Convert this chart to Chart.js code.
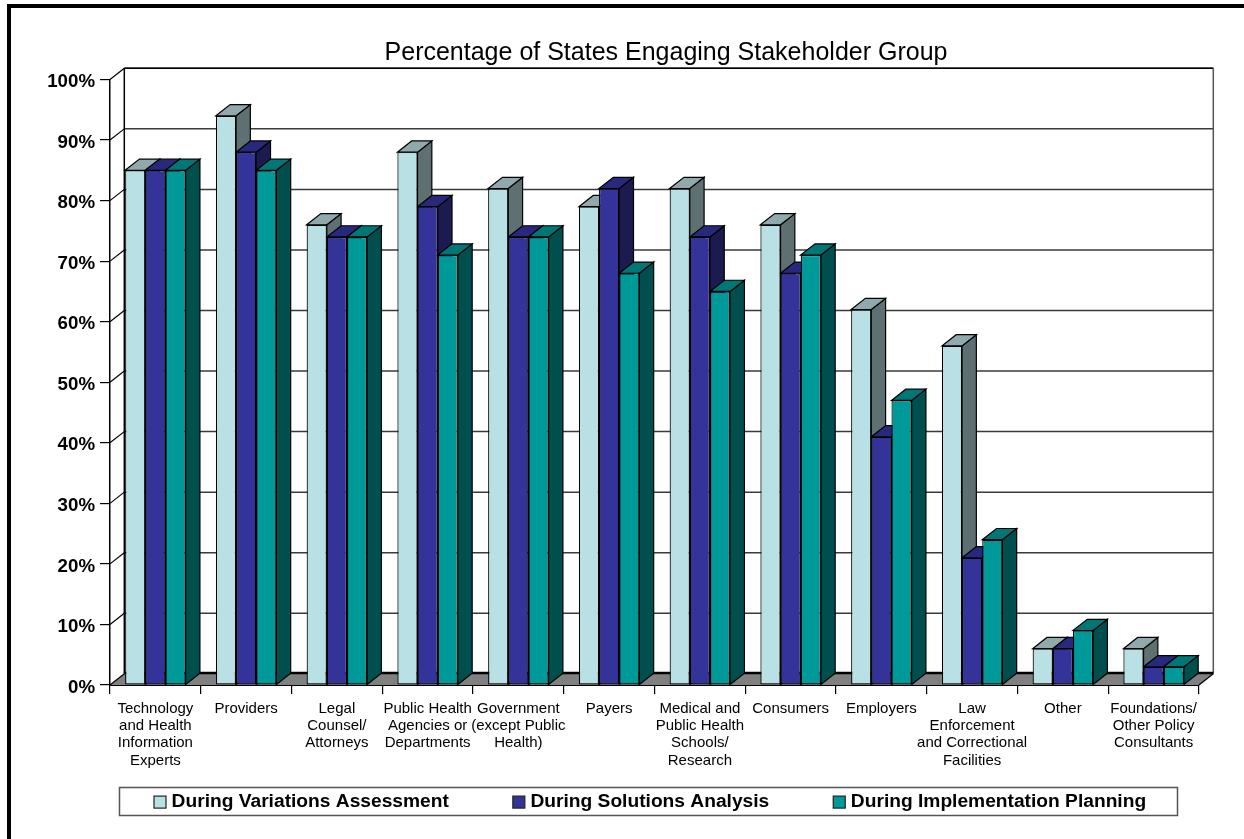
<!DOCTYPE html>
<html>
<head>
<meta charset="utf-8">
<title>Percentage of States Engaging Stakeholder Group</title>
<style>html,body{margin:0;padding:0;background:#fff}canvas{display:block}</style>
<script src="https://cdn.jsdelivr.net/npm/chart.js@4/dist/chart.umd.min.js"></script>
</head>
<body>
<canvas id="c" width="1244" height="839"></canvas>
<script>
const categories = [
  ["Technology","and Health","Information","Experts"],
  ["Providers"],
  ["Legal","Counsel/","Attorneys"],
  ["Public Health","Agencies or","Departments"],
  ["Government","(except Public","Health)"],
  ["Payers"],
  ["Medical and","Public Health","Schools/","Research"],
  ["Consumers"],
  ["Employers"],
  ["Law","Enforcement","and Correctional","Facilities"],
  ["Other"],
  ["Foundations/","Other Policy","Consultants"]
];
const seriesNames = ["During Variations Assessment","During Solutions Analysis","During Implementation Planning"];
const variationsAssessment = [85,94,76,88,82,79,82,76,62,56,6,6];
const solutionsAnalysis    = [85,88,74,79,74,82,74,68,41,21,6,3];
const implementationPlanning = [85,85,74,71,74,68,65,71,47,24,9,3];
const frontColors = ["#B9E0E4","#333399","#009999"];
const topColors   = ["#8FA9AD","#28287C","#007777"];
const sideColors  = ["#5F7072","#1B1B50","#004F4F"];

const DX = 14.3, DY = -11.2;

function poly(ctx, pts, fill, stroke, lw){
  ctx.beginPath();
  pts.forEach((p,i)=> i?ctx.lineTo(p[0],p[1]):ctx.moveTo(p[0],p[1]));
  ctx.closePath();
  if(fill){ctx.fillStyle=fill;ctx.fill();}
  if(stroke){ctx.strokeStyle=stroke;ctx.lineWidth=lw||1.2;ctx.stroke();}
}

const chartFurniture = {
  id:'chartFurniture',
  beforeDraw(chart){
    const ctx=chart.ctx;
    ctx.save();
    ctx.fillStyle='#fff';ctx.fillRect(0,0,chart.width,chart.height);
    ctx.fillStyle='#000';
    ctx.fillRect(7,4,4,chart.height-4);
    ctx.fillRect(7,4,chart.width-7,4);
    ctx.restore();
  },
  beforeDatasetsDraw(chart){
    const ctx=chart.ctx, a=chart.chartArea, y=chart.scales.y;
    const bx0=a.left+DX, bx1=a.right+DX, by0=a.bottom+DY, by1=a.top+DY;
    ctx.save();
    ctx.strokeStyle='#555';ctx.lineWidth=1.5;
    ctx.strokeRect(119.5,787.5,1058,28);
    poly(ctx,[[a.left,a.bottom],[a.right,a.bottom],[bx1,by0],[bx0,by0]],'#808080');
    y.ticks.forEach(t=>{
      const py=y.getPixelForValue(t.value);
      if(t.value===0) return;
      ctx.strokeStyle='#3a3a3a';ctx.lineWidth=1.5;
      ctx.beginPath();ctx.moveTo(bx0,py+DY);ctx.lineTo(bx1,py+DY);ctx.stroke();
      ctx.strokeStyle='#000';ctx.lineWidth=1.2;
      ctx.beginPath();ctx.moveTo(a.left,py);ctx.lineTo(bx0,py+DY);ctx.stroke();
    });
    ctx.strokeStyle='#000';ctx.lineWidth=1.5;
    ctx.beginPath();ctx.moveTo(bx0,by1);ctx.lineTo(bx1,by1);ctx.stroke();
    ctx.beginPath();ctx.moveTo(bx0,by1);ctx.lineTo(bx0,by0);ctx.stroke();
    ctx.strokeStyle='#555';ctx.lineWidth=1.5;
    ctx.beginPath();ctx.moveTo(bx1,by1);ctx.lineTo(bx1,by0);ctx.stroke();
    ctx.strokeStyle='#000';ctx.lineWidth=2.5;
    ctx.beginPath();ctx.moveTo(bx0,by0-0.7);ctx.lineTo(bx1,by0-0.7);ctx.stroke();
    ctx.lineWidth=1.2;
    ctx.beginPath();ctx.moveTo(a.left,a.bottom);ctx.lineTo(bx0,by0);ctx.stroke();
    ctx.beginPath();ctx.moveTo(a.right,a.bottom);ctx.lineTo(bx1,by0);ctx.stroke();
    // bar depth faces, left to right; the fronts are drawn over them by the library
    chart.data.datasets.forEach((d,i)=>{
      chart.getDatasetMeta(i).data.forEach(el=>{
        const l=el.x-el.width/2, r=el.x+el.width/2, t=el.y, b=el.base;
        poly(ctx,[[r,t],[r+DX,t+DY],[r+DX,b+DY],[r,b]],sideColors[i],'#000');
        poly(ctx,[[l,t],[l+DX,t+DY],[r+DX,t+DY],[r,t]],topColors[i],'#000');
      });
    });
    ctx.restore();
  },
  afterLayout(chart){
    const tb=chart.titleBlock;
    const titleShift=666-(tb.left+tb.right)/2;
    tb.left+=titleShift; tb.right+=titleShift;
    const lg=chart.legend;
    const pad=lg.options.labels.padding;
    const shift=154-(lg.left+pad+lg.right-lg.lineWidths[0])/2;
    lg.left+=shift; lg.right+=shift;
    lg.top=728.5; lg.bottom=lg.top+lg.height;
    chart.scales.x.bottom=785;
  },
  afterDraw(chart){
    const ctx=chart.ctx, lg=chart.legend;
    ctx.save();
    lg.legendHitBoxes.forEach((h,i)=>{
      const cy=h.top+h.height/2;
      ctx.fillStyle=frontColors[i];ctx.strokeStyle='#222';ctx.lineWidth=1.2;
      ctx.fillRect(h.left,cy-6,12,12);ctx.strokeRect(h.left,cy-6,12,12);
    });
    ctx.restore();
  }
};

const allValues=[variationsAssessment,solutionsAnalysis,implementationPlanning];
new Chart(document.getElementById('c'),{
  type:'bar',
  data:{
    labels:categories,
    datasets:seriesNames.map((n,i)=>({
      label:n,
      data:allValues[i],
      backgroundColor:frontColors[i],
      borderColor:'#000',
      borderWidth:1.2,
      borderSkipped:false,
      categoryPercentage:2/3,
      barPercentage:1
    }))
  },
  plugins:[chartFurniture],
  options:{
    responsive:false,
    animation:false,
    layout:{padding:{left:0,right:45,top:0,bottom:0}},
    plugins:{
      tooltip:{enabled:false},
      title:{
        display:true,
        text:"Percentage of States Engaging Stakeholder Group",
        color:'#000',
        font:{family:"'Liberation Sans'",size:25,weight:'normal',lineHeight:1.2},
        padding:{top:38.5,bottom:11}
      },
      legend:{
        position:'bottom',
        labels:{
          font:{family:"'Liberation Sans'",size:19.2,weight:'bold'},
          color:'#000',
          boxWidth:8,
          boxHeight:12,
          padding:64,
          generateLabels(chart){
            return chart.data.datasets.map((d,i)=>({
              text:d.label,fillStyle:'rgba(0,0,0,0)',strokeStyle:'rgba(0,0,0,0)',lineWidth:0,datasetIndex:i,hidden:false,fontColor:'#000'
            }));
          }
        }
      }
    },
    scales:{
      x:{
        afterFit(s){s.height=154-s.chart.legend.height;},
        border:{display:true,color:'#000',width:2},
        grid:{drawOnChartArea:false,drawTicks:true,tickLength:9,color:'#000',lineWidth:1.2},
        ticks:{autoSkip:false,maxRotation:0,minRotation:0,padding:6,color:'#000',
          font:{family:"'Liberation Sans'",size:15,lineHeight:1.15}}
      },
      y:{
        min:0,max:100,
        afterFit(s){s.width=110;},
        border:{display:true,color:'#000',width:1.5},
        grid:{drawOnChartArea:false,drawTicks:true,tickLength:10,color:'#000',lineWidth:1.2},
        ticks:{stepSize:10,padding:5,labelOffset:2.5,color:'#000',callback:v=>v+'%',
          font:{family:"'Liberation Sans'",size:18.7,weight:'bold'}}
      }
    }
  }
});
</script>
</body>
</html>
